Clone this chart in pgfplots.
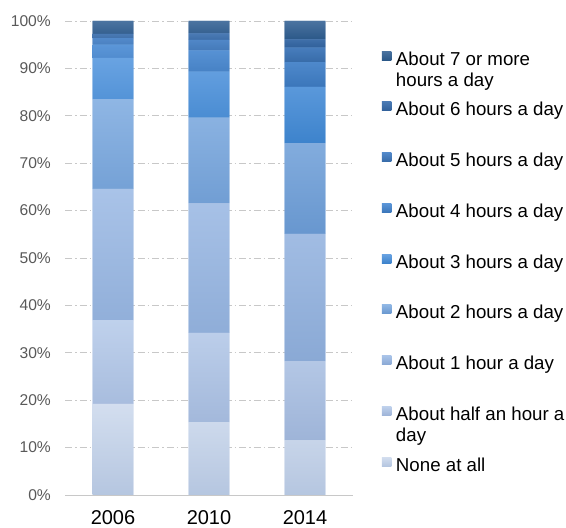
\documentclass[border=0pt]{standalone}
\usepackage{fontspec}
\setmainfont{Liberation Sans}
\usepackage{pgfplots}
\usepackage{pgfplotstable}
\pgfplotsset{compat=1.18}
\definecolor{cnone}{HTML}{C5D3EA}
\definecolor{chalf}{HTML}{B2C6E6}
\definecolor{cone}{HTML}{9DBAE2}
\definecolor{ctwo}{HTML}{7DA8DC}
\definecolor{cthree}{HTML}{5494D9}
\definecolor{cfour}{HTML}{4E88CC}
\definecolor{cfive}{HTML}{467CBC}
\definecolor{csix}{HTML}{3E6FA9}
\definecolor{cseven}{HTML}{3A6594}
\definecolor{tnone}{HTML}{D3DEEF}\definecolor{bnone}{HTML}{B5C6E0}
\definecolor{thalf}{HTML}{BFD1EC}\definecolor{bhalf}{HTML}{9EB4D8}
\definecolor{tone}{HTML}{A9C3E8}\definecolor{bone}{HTML}{8AA9D5}
\definecolor{ttwo}{HTML}{8FB6E4}\definecolor{btwo}{HTML}{6897CF}
\definecolor{tthree}{HTML}{69A3E2}\definecolor{bthree}{HTML}{3D83CC}
\definecolor{tfour}{HTML}{5B96D8}\definecolor{bfour}{HTML}{3B76BA}
\definecolor{tfive}{HTML}{5289CA}\definecolor{bfive}{HTML}{376BA8}
\definecolor{tsix}{HTML}{4A7AB4}\definecolor{bsix}{HTML}{30609A}
\definecolor{tseven}{HTML}{4B73A0}\definecolor{bseven}{HTML}{2B5888}
\definecolor{tickgray}{HTML}{595959}
\definecolor{gridgray}{HTML}{C8C8C8}
\pgfplotstableread{
x none half one two three four five six seven
0 19.2 17.7 27.7 18.9 8.7 2.8 1.4 0.9 2.7
1 15.4 18.8 27.3 18.1 9.7 4.5 2.2 1.4 2.6
2 11.5 16.7 26.9 19.1 11.9 5.2 3.1 1.7 3.9
}\datatable
\pgfplotsset{
  seg/.style n args={3}{fill=#1, top color=#2, bottom color=#3, draw=none},
}
\begin{document}
\begin{tikzpicture}
\useasboundingbox (0pt,0pt) rectangle (566pt,528pt);
\begin{axis}[
  at={(65pt,33pt)}, anchor=south west,
  scale only axis, width=288pt, height=474pt,
  xmin=-0.5, xmax=2.5, ymin=0, ymax=100,
  ybar stacked, bar width=40.7pt,
  axis x line*=bottom, axis y line*=left,
  x axis line style={draw=gridgray, line width=0.8pt},
  y axis line style={draw=none},
  major tick length=0pt,
  xtick={0,1,2}, xticklabels={2006,2010,2014},
  xticklabel style={font=\fontsize{20}{24}\selectfont, inner sep=0pt, anchor=north, yshift=-15pt},
  ytick={0,10,...,100},
  yticklabels={0\%,10\%,20\%,30\%,40\%,50\%,60\%,70\%,80\%,90\%,100\%},
  yticklabel style={font=\fontsize{15.6}{18}\selectfont, text=tickgray, inner sep=0pt, anchor=east, xshift=-14pt},
  ymajorgrids,
  grid style={draw=gridgray, line width=0.7pt, dash pattern=on 7pt off 3pt on 1.5pt off 3pt},
  reverse legend,
  legend cell align=left,
  legend style={at={(1.1007,0.9367)}, anchor=north west, draw=none, fill=none,
    inner sep=0pt, outer sep=0pt, row sep=31.75pt, column sep=4.5pt,
    font=\fontsize{18.7}{21}\selectfont,
    nodes={inner sep=0pt, outer sep=0pt, text height=14pt, text depth=5pt}},
]
\addplot[seg={cnone}{tnone}{bnone}, legend image code/.code={\fill[cnone] (0pt,0.5pt) rectangle (9.5pt,9.5pt);}] table[x=x, y=none] {\datatable};
\addplot[seg={chalf}{thalf}{bhalf}, legend image code/.code={\fill[chalf] (0pt,0.5pt) rectangle (9.5pt,9.5pt);}] table[x=x, y=half] {\datatable};
\addplot[seg={cone}{tone}{bone}, legend image code/.code={\fill[cone] (0pt,0.5pt) rectangle (9.5pt,9.5pt);}] table[x=x, y=one] {\datatable};
\addplot[seg={ctwo}{ttwo}{btwo}, legend image code/.code={\fill[ctwo] (0pt,0.5pt) rectangle (9.5pt,9.5pt);}] table[x=x, y=two] {\datatable};
\addplot[seg={cthree}{tthree}{bthree}, legend image code/.code={\fill[cthree] (0pt,0.5pt) rectangle (9.5pt,9.5pt);}] table[x=x, y=three] {\datatable};
\addplot[seg={cfour}{tfour}{bfour}, legend image code/.code={\fill[cfour] (0pt,0.5pt) rectangle (9.5pt,9.5pt);}] table[x=x, y=four] {\datatable};
\addplot[seg={cfive}{tfive}{bfive}, legend image code/.code={\fill[cfive] (0pt,0.5pt) rectangle (9.5pt,9.5pt);}] table[x=x, y=five] {\datatable};
\addplot[seg={csix}{tsix}{bsix}, legend image code/.code={\fill[csix] (0pt,0.5pt) rectangle (9.5pt,9.5pt);}] table[x=x, y=six] {\datatable};
\addplot[seg={cseven}{tseven}{bseven}, legend image code/.code={\fill[cseven] (0pt,0.5pt) rectangle (9.5pt,9.5pt);}] table[x=x, y=seven] {\datatable};
\legend{None at all,
  {\begin{tabular}[t]{@{}l@{}}About half an hour a\\day\end{tabular}},
  About 1 hour a day,
  About 2 hours a day,
  About 3 hours a day,
  About 4 hours a day,
  About 5 hours a day,
  About 6 hours a day,
  {\begin{tabular}[t]{@{}l@{}}About 7 or more\\hours a day\end{tabular}}}
\end{axis}
\end{tikzpicture}
\end{document}
